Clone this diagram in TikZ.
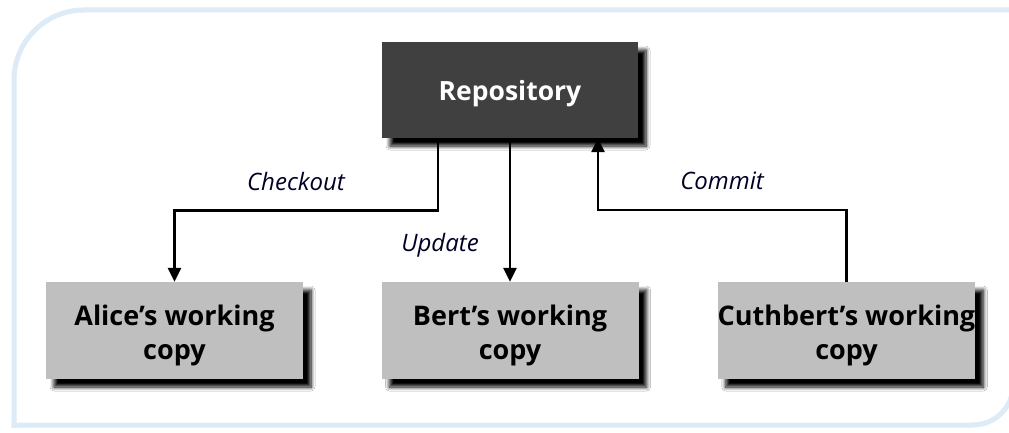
\documentclass[tikz,border=0pt]{standalone}
\usepackage{fontspec}
\setmainfont{Open Sans}
\usetikzlibrary{shadows.blur,arrows.meta}
\definecolor{frameblue}{HTML}{DDEBF7}
\definecolor{repofill}{HTML}{404040}
\definecolor{wcfill}{HTML}{BFBFBF}
\newcommand\wclines[2]{\raisebox{0pt}[\dimexpr\height+10pt\relax][\depth]{\begin{tabular}{@{}c@{}}#1\\#2\end{tabular}}}
\begin{document}
\begin{tikzpicture}[x=1pt,y=-1pt,
  frame/.style={draw=frameblue, line width=5pt, line cap=rect},
  boxshadow/.style={blur shadow={shadow xshift=8pt, shadow yshift=-8pt, shadow blur radius=4pt, shadow opacity=100, shadow blur steps=8}},
  repo/.style={fill=repofill, text=white, font=\bfseries\fontsize{26.5}{30}\selectfont,
    text height=28pt, text depth=6pt,
    minimum width=256pt, minimum height=96pt, inner sep=0pt, boxshadow},
  wc/.style={fill=wcfill, text=black, font=\bfseries\fontsize{27}{34}\selectfont,
    minimum width=257pt, minimum height=97pt, inner sep=0pt, boxshadow},
  lbl/.style={font=\itshape\fontsize{24}{28}\selectfont, text=black!85!blue},
  arr/.style={line width=2.6pt, -{Triangle[length=14pt,width=13pt]}}
]
\useasboundingbox (0,0) rectangle (1009,433);
\fill[white] (0,0) rectangle (1009,433);
% frame
\draw[frame, rounded corners=70pt] (14,425) -- (14,10) -- (1040,10);
\draw[frame, rounded corners=40pt] (14,425) -- (1013,425) -- (1013,300);
% nodes
\node[repo] (repo) at (510,90) {Repository};
\node[wc] (alice) at (174.5,330.5) {\wclines{Alice’s working}{copy}};
\node[wc] (bert) at (510,330.5) {\wclines{Bert’s working}{copy}};
\node[wc] (cuth) at (846.5,330.5) {\wclines{Cuthbert’s working}{copy}};
% connectors
\draw[arr] ([xshift=-72pt]repo.south) -- ++(0,72) -| (alice.north);
\draw[arr] (repo.south) -- (bert.north);
\draw[arr] (cuth.north) -- ++(0,-72) -| ([xshift=88pt]repo.south);
% labels
\node[lbl] (lcheck) at (296,181) {Checkout};
\node[lbl] (lupd) at (440,245) {Update};
\node[lbl] (lcommit) at (722,181) {Commit};
\end{tikzpicture}
\end{document}
